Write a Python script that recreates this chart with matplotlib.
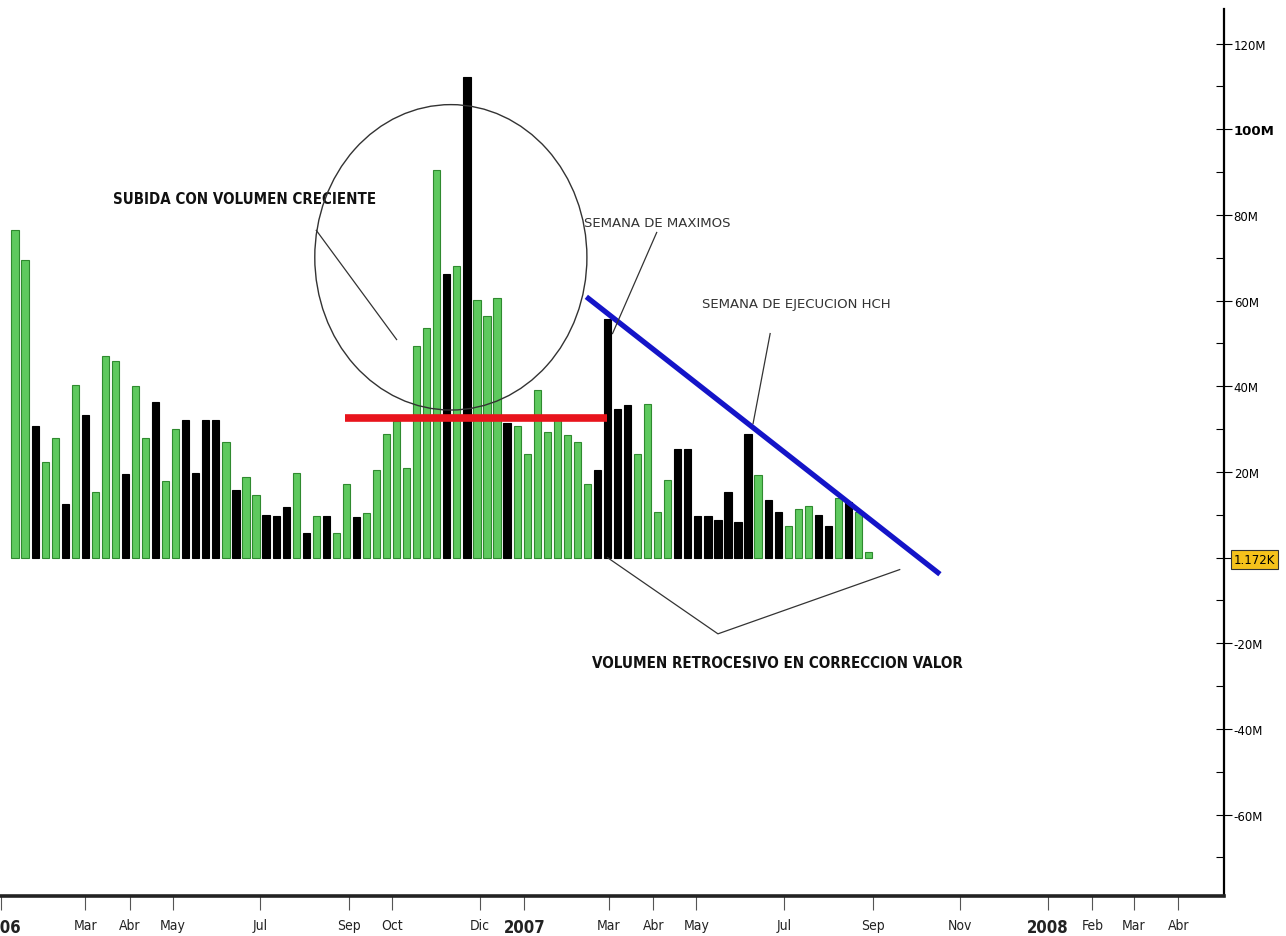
import matplotlib
matplotlib.use("Agg")
import matplotlib.pyplot as plt
from matplotlib.patches import Ellipse
import numpy as np
import pandas as pd

# weekly volume, millions of shares
volume = [76.4, 69.4, 30.7, 22.3, 28.0, 12.6, 40.4, 33.4, 15.2, 47.0,
          46.0, 19.4, 40.0, 28.0, 36.4, 17.8, 30.1, 32.1, 19.7, 32.1,
          32.1, 26.9, 15.7, 18.7, 14.5, 10.0, 9.6, 11.7, 19.7, 5.7,
          9.6, 9.6, 5.7, 17.1, 9.4, 10.4, 20.5, 28.9, 31.8, 21.0,
          49.3, 53.6, 90.6, 66.3, 68.1, 112.3, 60.2, 56.3, 60.7, 31.4,
          30.8, 24.3, 39.1, 29.4, 32.1, 28.6, 26.9, 17.2, 20.5, 55.8,
          34.8, 35.6, 24.3, 35.9, 10.6, 18.0, 25.4, 25.4, 9.7, 9.7,
          8.8, 15.3, 8.2, 28.9, 19.2, 13.5, 10.6, 7.4, 11.4, 12.1,
          10.0, 7.4, 14.0, 13.0, 10.6, 1.2]
# 1 = green (up week), 0 = black (down week)
up = [1, 1, 0, 1, 1, 0, 1, 0, 1, 1,
      1, 0, 1, 1, 0, 1, 1, 0, 0, 0,
      0, 1, 0, 1, 1, 0, 0, 0, 1, 0,
      1, 0, 1, 1, 0, 1, 1, 1, 1, 1,
      1, 1, 1, 0, 1, 0, 1, 1, 1, 0,
      1, 1, 1, 1, 1, 1, 1, 1, 0, 0,
      0, 0, 1, 1, 1, 1, 0, 0, 0, 0,
      0, 0, 0, 0, 1, 0, 0, 1, 1, 1,
      0, 0, 1, 0, 1, 1]

first_week = pd.Timestamp("2006-01-11")
tick_dates = ["2006-01-01", "2006-03-01", "2006-04-01", "2006-05-01", "2006-07-01",
              "2006-09-01", "2006-10-01", "2006-12-01", "2007-01-01", "2007-03-01",
              "2007-04-01", "2007-05-01", "2007-07-01", "2007-09-01", "2007-11-01",
              "2008-01-01", "2008-02-01", "2008-03-01", "2008-04-01"]
tick_labels = ["2006", "Mar", "Abr", "May", "Jul", "Sep", "Oct", "Dic", "2007", "Mar",
               "Abr", "May", "Jul", "Sep", "Nov", "2008", "Feb", "Mar", "Abr"]

y_ticks = [-60, -40, -20, 0, 20, 40, 60, 80, 100, 120]
y_labels = ["-60M", "-40M", "-20M", "1.172K", "20M", "40M", "60M", "80M", "100M", "120M"]

# hand-drawn marks on the chart, in (week index, millions)
red_level = 32.5
red_span = [32.9, 59.0]
blue_line = [[57.1, 91.9], [60.5, -3.5]]


def main():
    x = np.arange(len(volume))
    vol = np.array(volume)
    is_up = np.array(up) == 1

    fig = plt.figure(figsize=(12.86, 9.37), dpi=100)
    ax = fig.add_axes([0.0, 0.0427, 0.9518, 0.9463])

    ax.bar(x[is_up], vol[is_up], width=0.72, color="#5ec95e",
           edgecolor="#2f8a2f", linewidth=0.8, zorder=2)
    ax.bar(x[~is_up], vol[~is_up], width=0.72, color="black",
           edgecolor="black", linewidth=0.8, zorder=2)

    # trend lines drawn on the chart
    ax.plot(red_span, [red_level, red_level], color="#e8141c", lw=5.5,
            solid_capstyle="butt", zorder=3)
    ax.plot(blue_line[0], blue_line[1], color="#1414c8", lw=3.8, zorder=3)

    ax.add_patch(Ellipse((43.4, 70.1), 27.1, 71.3, fill=False,
                         edgecolor="#333333", lw=1.0, zorder=4))

    thin = dict(color="#333333", lw=0.9, zorder=4)
    ax.plot([30.0, 38.0], [76.4, 50.9], **thin)
    ax.plot([63.9, 59.5], [75.9, 52.3], **thin)
    ax.plot([75.2, 73.5], [52.3, 31.3], **thin)
    ax.plot([59.0, 70.0, 88.1], [0.0, -17.8, -2.8], **thin)

    big = dict(fontweight="bold", fontstretch="condensed", ha="center",
               va="center", color="#111111")
    ax.text(22.9, 83.9, "SUBIDA CON VOLUMEN CRECIENTE", fontsize=10.8, **big)
    ax.text(75.9, -24.5, "VOLUMEN RETROCESIVO EN CORRECCION VALOR", fontsize=10.9, **big)
    ax.text(64.0, 78.3, "SEMANA DE MAXIMOS", fontsize=9.5, ha="center",
            va="center", color="#333333")
    ax.text(77.8, 59.3, "SEMANA DE EJECUCION HCH", fontsize=9.5, ha="center",
            va="center", color="#333333")

    # axes
    ax.set_xlim(-1.5, 120.4)
    ax.set_ylim(-79, 128)
    for s in ["left", "top"]:
        ax.spines[s].set_visible(False)
    ax.spines["right"].set_linewidth(1.6)
    ax.spines["bottom"].set_linewidth(2.6)
    ax.spines["bottom"].set_color("#222222")

    tick_pos = [(pd.Timestamp(d) - first_week).days / 7 for d in tick_dates]
    ax.set_xticks(tick_pos, tick_labels, fontsize=10, fontstretch="condensed",
                  color="#222222")
    for lab in ax.get_xticklabels():
        if lab.get_text().isdigit():
            lab.set_fontweight("bold")
            lab.set_fontsize(12)
    ax.tick_params(axis="x", direction="out", length=10, width=0.8, pad=6,
                   color="#555555")

    ax.yaxis.tick_right()
    ax.set_yticks(y_ticks, y_labels, fontsize=8.5)
    ax.set_yticks(np.arange(-70, 130, 10), minor=True)
    ax.tick_params(axis="y", which="major", direction="inout", length=12,
                   width=0.8, pad=1)
    ax.tick_params(axis="y", which="minor", direction="in", length=6, width=0.8)
    for lab in ax.get_yticklabels():
        if lab.get_text() == "100M":
            lab.set_fontweight("bold")
            lab.set_fontsize(9.5)
        if lab.get_text() == "1.172K":
            lab.set_bbox(dict(boxstyle="square,pad=0.25", facecolor="#f5c21b",
                              edgecolor="#333333", lw=0.8))

    fig.savefig("out.png", dpi=100)


if __name__ == "__main__":
    main()
